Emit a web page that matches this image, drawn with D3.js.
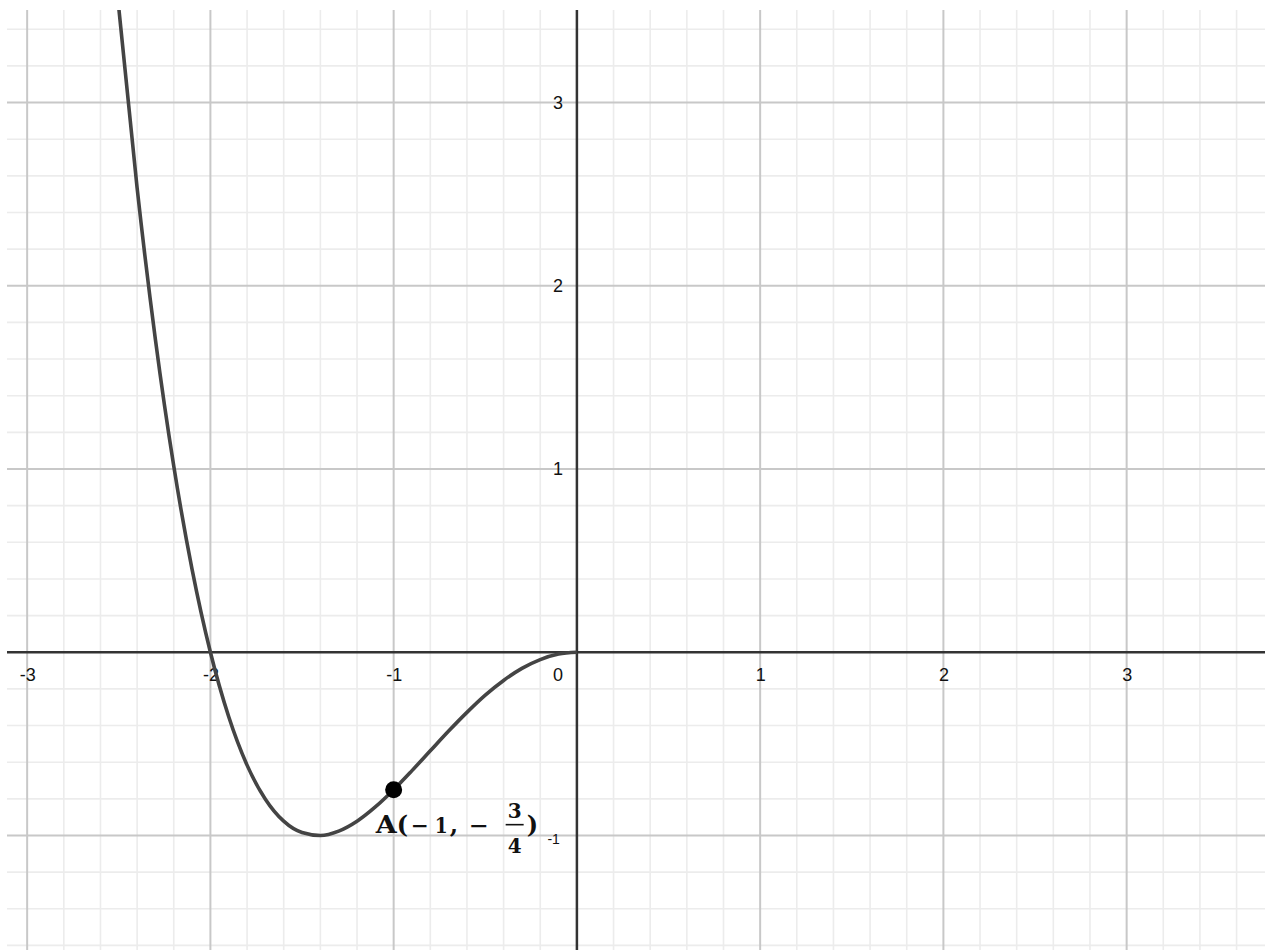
<!DOCTYPE html>
<html>
<head>
<meta charset="utf-8">
<script src="https://cdn.jsdelivr.net/npm/d3@7"></script>
<style>
  body { margin: 0; background: #fff; }
  svg { display: block; }
</style>
</head>
<body>
<div id="graph"></div>
<script>
// values
var curveX = [-2.5, -2.4, -2.3, -2.2, -2.1, -2.0, -1.9, -1.8, -1.7, -1.6, -1.5, -1.4, -1.3,
              -1.2, -1.1, -1.0, -0.9, -0.8, -0.7, -0.6, -0.5, -0.4, -0.3, -0.2, -0.1, 0];
var curveY = [3.516, 2.534, 1.706, 1.016, 0.452, 0, -0.352, -0.616, -0.802, -0.922, -0.984, -1.0, -0.976,
              -0.922, -0.844, -0.75, -0.646, -0.538, -0.430, -0.328, -0.234, -0.154, -0.088, -0.040, -0.010, 0];
var pointA = {x: -1, y: -0.75};
var xTickLabels = [-3, -2, -1, 1, 2, 3];
var yTickLabels = [-1, 1, 2, 3];

var W = 1271, H = 950;

var svg = d3.select("#graph").append("svg")
  .attr("width", W)
  .attr("height", H);

svg.append("rect").attr("width", W).attr("height", H).attr("fill", "#fff");

var x = d3.scaleLinear().domain([-3.11, 3.755]).range([7, 1265]);
var y = d3.scaleLinear().domain([-1.625, 3.505]).range([950, 10]);

svg.append("clipPath").attr("id", "plot")
  .append("rect")
  .attr("x", x.range()[0]).attr("y", y.range()[1])
  .attr("width", x.range()[1] - x.range()[0])
  .attr("height", y.range()[0] - y.range()[1]);

// grid: minor every 0.2, major every 1
var minorX = d3.range(-15, 19).filter(function(i) { return i % 5 !== 0; }).map(function(i) { return i / 5; });
var minorY = d3.range(-8, 18).filter(function(i) { return i % 5 !== 0; }).map(function(i) { return i / 5; });
var majorX = [-3, -2, -1, 1, 2, 3];
var majorY = [-1, 1, 2, 3];

var grid = svg.append("g");
grid.selectAll(".mx").data(minorX).enter().append("line")
  .attr("x1", function(d) { return x(d); }).attr("x2", function(d) { return x(d); })
  .attr("y1", y.range()[1]).attr("y2", y.range()[0])
  .attr("stroke", "#ececec").attr("stroke-width", 1.6);
grid.selectAll(".my").data(minorY).enter().append("line")
  .attr("y1", function(d) { return y(d); }).attr("y2", function(d) { return y(d); })
  .attr("x1", x.range()[0]).attr("x2", x.range()[1])
  .attr("stroke", "#ececec").attr("stroke-width", 1.6);
grid.selectAll(".Mx").data(majorX).enter().append("line")
  .attr("x1", function(d) { return x(d); }).attr("x2", function(d) { return x(d); })
  .attr("y1", y.range()[1]).attr("y2", y.range()[0])
  .attr("stroke", "#c8c8c8").attr("stroke-width", 2);
grid.selectAll(".My").data(majorY).enter().append("line")
  .attr("y1", function(d) { return y(d); }).attr("y2", function(d) { return y(d); })
  .attr("x1", x.range()[0]).attr("x2", x.range()[1])
  .attr("stroke", "#c8c8c8").attr("stroke-width", 2);

// axes lines
svg.append("line")
  .attr("x1", x.range()[0]).attr("x2", x.range()[1])
  .attr("y1", y(0)).attr("y2", y(0))
  .attr("stroke", "#333").attr("stroke-width", 2.5);
svg.append("line")
  .attr("x1", x(0)).attr("x2", x(0))
  .attr("y1", y.range()[1]).attr("y2", y.range()[0])
  .attr("stroke", "#333").attr("stroke-width", 2.5);

// tick labels
var xAxis = svg.append("g")
  .attr("transform", "translate(0," + y(0) + ")")
  .call(d3.axisBottom(x).tickValues(xTickLabels).tickSize(0).tickPadding(16)
    .tickFormat(function(d) { return String(d); }));
var yAxis = svg.append("g")
  .attr("transform", "translate(" + x(0) + ",0)")
  .call(d3.axisLeft(y).tickValues(yTickLabels).tickSize(0).tickPadding(14)
    .tickFormat(function(d) { return String(d); }));

[xAxis, yAxis].forEach(function(g) {
  g.select(".domain").remove();
  g.selectAll("text")
    .attr("fill", "#111")
    .style("font-family", "'Liberation Sans', Arial, sans-serif")
    .style("font-size", "18px");
});
yAxis.selectAll(".tick").filter(function(d) { return d === -1; }).select("text")
  .style("font-size", "14px")
  .attr("dy", "0.55em")
  .attr("x", -17);

svg.append("text")
  .attr("x", x(0) - 14)
  .attr("y", y(0) + 29)
  .attr("text-anchor", "end")
  .attr("fill", "#111")
  .style("font-family", "'Liberation Sans', Arial, sans-serif")
  .style("font-size", "18px")
  .text("0");

// curve, drawn only for x <= 0
var pts = curveX.map(function(v, i) { return [v, curveY[i]]; });
var line = d3.line()
  .x(function(d) { return x(d[0]); })
  .y(function(d) { return y(d[1]); })
  .curve(d3.curveMonotoneX);

svg.append("path")
  .datum(pts)
  .attr("clip-path", "url(#plot)")
  .attr("d", line)
  .attr("fill", "none")
  .attr("stroke", "#444")
  .attr("stroke-width", 3.6);

// point A and its label
var ax = x(pointA.x), ay = y(pointA.y);
svg.append("circle")
  .attr("cx", ax).attr("cy", ay).attr("r", 8.5)
  .attr("fill", "#000");

var lab = svg.append("g")
  .attr("transform", "translate(" + ax + "," + ay + ")")
  .attr("fill", "#111")
  .style("font-family", "'DejaVu Serif', 'Liberation Serif', serif")
  .style("font-weight", "bold");

function piece(txt, dx, dy, size, len) {
  var t = lab.append("text").attr("x", dx).attr("y", dy)
    .style("font-size", size + "px").text(txt);
  if (len) t.attr("textLength", len).attr("lengthAdjust", "spacingAndGlyphs");
}
piece("A", -18, 43, 24, 21);
piece("(", 3, 43, 24);
piece("\u2212", 17, 43, 22, 18);
piece("1", 41, 43, 22, 13);
piece(",", 56, 43, 24);
piece("\u2212", 75, 43, 22, 20);
lab.append("text").attr("x", 121).attr("y", 28).attr("text-anchor", "middle")
  .style("font-size", "20px").text("3");
lab.append("line").attr("x1", 112).attr("x2", 130).attr("y1", 35).attr("y2", 35)
  .attr("stroke", "#111").attr("stroke-width", 1.6);
lab.append("text").attr("x", 121).attr("y", 63).attr("text-anchor", "middle")
  .style("font-size", "20px").text("4");
piece(")", 133, 43, 24);
</script>
</body>
</html>
